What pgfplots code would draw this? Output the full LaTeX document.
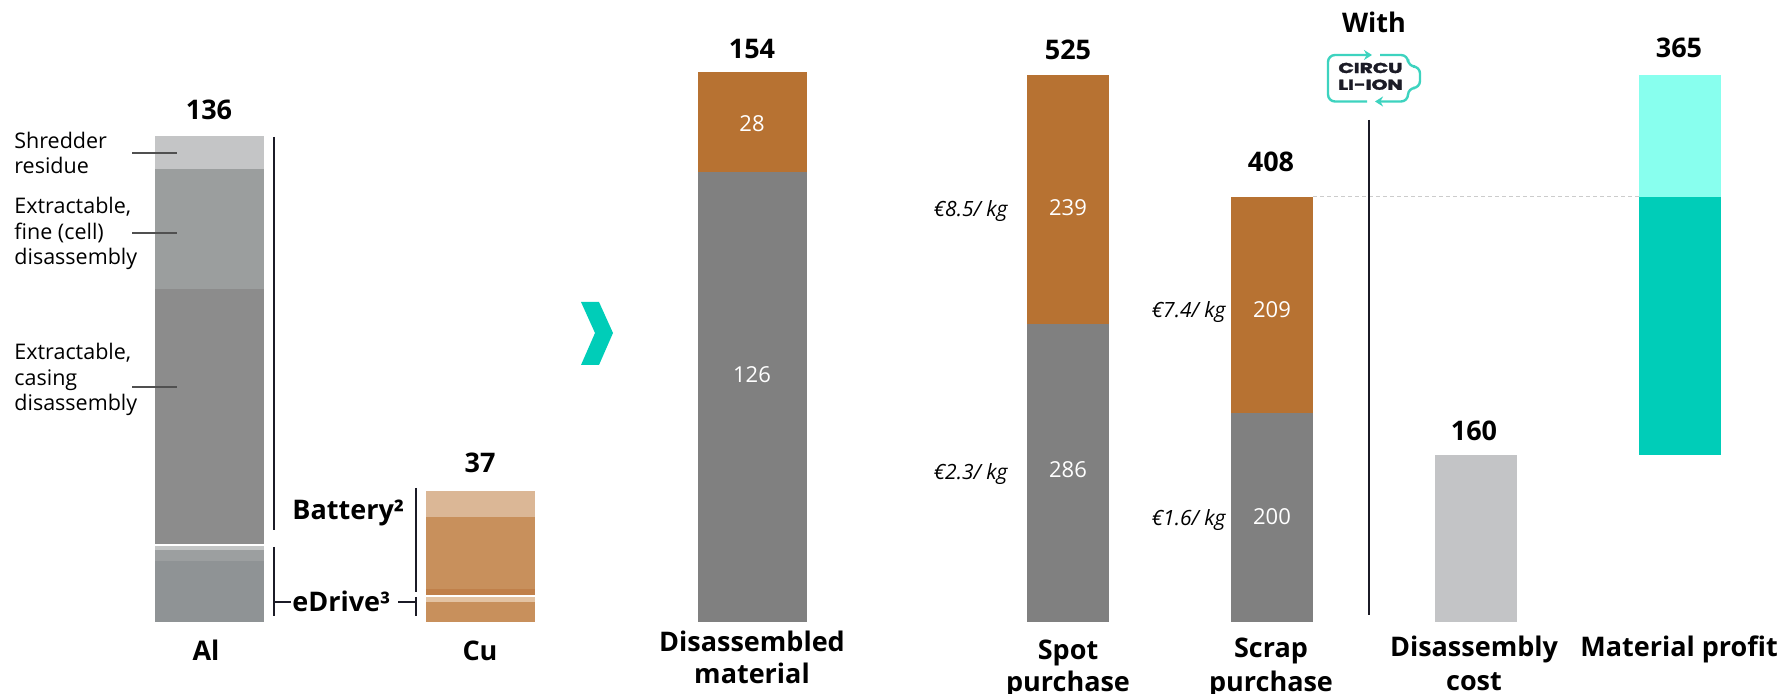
\documentclass[border=0pt]{standalone}
\usepackage{fontspec}
\setmainfont{Open Sans}
\newfontfamily\logofont{Poppins}[BoldFeatures={FakeBold=2}]
\usepackage{graphicx}
\usepackage{pgfplots}
\pgfplotsset{compat=1.18}
\usetikzlibrary{arrows.meta}

\definecolor{metal}{HTML}{808080}
\definecolor{copper}{HTML}{B77232}
\definecolor{alShred}{HTML}{C4C5C6}
\definecolor{alFine}{HTML}{9B9E9E}
\definecolor{alCase}{HTML}{8C8C8C}
\definecolor{alPale}{HTML}{C3C5C5}
\definecolor{alMid}{HTML}{9C9FA0}
\definecolor{alLow}{HTML}{8F9395}
\definecolor{cuLight}{HTML}{DBB796}
\definecolor{cuTan}{HTML}{C8905C}
\definecolor{cuDark}{HTML}{C0804A}
\definecolor{cuPale}{HTML}{E3C3A3}
\definecolor{costgray}{HTML}{C3C4C6}
\definecolor{cteal}{HTML}{00CDB8}
\definecolor{lightteal}{HTML}{88FFEE}
\definecolor{logoteal}{HTML}{3DD3BF}
\definecolor{ink}{HTML}{1B1B26}
\definecolor{leader}{HTML}{505050}

% one px of the reference = 0.5pt; all panels share the same box, baseline at px 622
\pgfplotsset{
  panel/.style={at={(0,0)}, anchor=south west, width=890.5pt, height=347pt,
    scale only axis, hide axis, clip=false, xmin=0, xmax=1781,
    ybar stacked, bar shift=0pt},
  kgaxis/.style={panel, ymin=-20.168, ymax=174.23, bar width=109},
  euraxis/.style={panel, ymin=-69.05, ymax=596.53, bar width=81.5},
}

\newcommand\tot{\fontsize{13.5}{16}\selectfont\bfseries}
\newcommand\cat{\fontsize{13.5}{16}\selectfont\bfseries}
\newcommand\note{\fontsize{10.75}{12.5}\selectfont}
\newcommand\inbar{\fontsize{11}{13}\selectfont\color{white}}
\newcommand\price{\fontsize{10.5}{12}\selectfont\itshape}

\begin{document}
\begin{tikzpicture}
% ---- kg panels
\begin{axis}[kgaxis] % Al
  \addplot[fill=alLow, draw=none] coordinates {(209.3,17)};
  \addplot[fill=alMid, draw=none] coordinates {(209.3,3.3)};
  \addplot[fill=alPale, draw=none] coordinates {(209.3,1.1)};
  \addplot[fill=white, draw=none] coordinates {(209.3,0.5)};
  \addplot[fill=alCase, draw=none] coordinates {(209.3,71.3)};
  \addplot[fill=alFine, draw=none] coordinates {(209.3,33.8)};
  \addplot[fill=alShred, draw=none] coordinates {(209.3,9.0)};
\end{axis}
\begin{axis}[kgaxis] % Cu
  \addplot[fill=cuTan, draw=none] coordinates {(480.5,5.6)};
  \addplot[fill=cuPale, draw=none] coordinates {(480.5,1.4)};
  \addplot[fill=white, draw=none] coordinates {(480.5,0.5)};
  \addplot[fill=cuDark, draw=none] coordinates {(480.5,1.7)};
  \addplot[fill=cuTan, draw=none] coordinates {(480.5,20.2)};
  \addplot[fill=cuLight, draw=none] coordinates {(480.5,7.4)};
\end{axis}
\begin{axis}[kgaxis] % disassembled material
  \addplot[fill=metal, draw=none] coordinates {(752,126)};
  \addplot[fill=copper, draw=none] coordinates {(752,28)};
\end{axis}
% ---- euro panels
\begin{axis}[euraxis] % spot purchase
  \addplot[fill=metal, draw=none] coordinates {(1068.2,286)};
  \addplot[fill=copper, draw=none] coordinates {(1068.2,239)};
\end{axis}
\begin{axis}[euraxis] % scrap purchase
  \addplot[fill=metal, draw=none] coordinates {(1272,200)};
  \addplot[fill=copper, draw=none] coordinates {(1272,208)};
\end{axis}
\begin{axis}[euraxis] % disassembly cost
  \addplot[fill=costgray, draw=none] coordinates {(1476,160)};
\end{axis}
\begin{axis}[euraxis] % material profit, floating from 160 to 525
  \addplot[fill=none, draw=none] coordinates {(1680,160)};
  \addplot[fill=cteal, draw=none] coordinates {(1680,248)};
  \addplot[fill=lightteal, draw=none] coordinates {(1680,117)};
  \draw[color=black!20, line width=0.5pt, dash pattern=on 2pt off 1.5pt]
    (axis cs:1313,408) -- (axis cs:1640,408);
\end{axis}

% ---- annotations, in reference pixels
\begin{scope}[x=0.5pt, y=-0.5pt, shift={(0,347pt)}]
  % totals
  \node[font=\tot] at (209,109.7) {136};
  \node[font=\tot] at (480,463) {37};
  \node[font=\tot] at (752,48.7) {154};
  \node[font=\tot] at (1068,49.8) {525};
  \node[font=\tot] at (1271,161.8) {408};
  \node[font=\tot] at (1474,430.4) {160};
  \node[font=\tot] at (1679,48.2) {365};
  \node[font=\tot] at (1374,22) {With};
  % values inside the bars
  \node[font=\inbar] at (752,124) {28};
  \node[font=\inbar] at (752,375) {126};
  \node[font=\inbar] at (1068,208) {239};
  \node[font=\inbar] at (1068,470) {286};
  \node[font=\inbar] at (1272,310) {209};
  \node[font=\inbar] at (1272,517) {200};
  % prices
  \node[font=\price, anchor=base east, inner sep=0pt] at (1008,216.8) {€8.5/ kg};
  \node[font=\price, anchor=base east, inner sep=0pt] at (1008,480) {€2.3/ kg};
  \node[font=\price, anchor=base east, inner sep=0pt] at (1226,317.7) {€7.4/ kg};
  \node[font=\price, anchor=base east, inner sep=0pt] at (1226,525.7) {€1.6/ kg};
  % Al fractions
  \begin{scope}[every node/.style={font=\note, anchor=base west, inner sep=0pt}]
    \node at (14,148.5) {Shredder};
    \node at (14,174) {residue};
    \node at (14,214) {Extractable,};
    \node at (14,239.5) {fine (cell)};
    \node at (14,265) {disassembly};
    \node at (14,360) {Extractable,};
    \node at (14,385.5) {casing};
    \node at (14,411) {disassembly};
  \end{scope}
  \draw[leader, line width=0.65pt] (132,153) -- (177,153);
  \draw[leader, line width=0.65pt] (132,233) -- (177,233);
  \draw[leader, line width=0.65pt] (132,387) -- (177,387);
  % brackets
  \draw[ink, line width=1pt] (274,137) -- (274,530);
  \draw[ink, line width=1pt] (274,547) -- (274,616);
  \draw[ink, line width=1pt] (274,602) -- (291,602);
  \draw[ink, line width=1pt] (416,488) -- (416,592);
  \draw[ink, line width=1pt] (416,597) -- (416,616);
  \draw[ink, line width=1pt] (398,602) -- (416,602);
  \node[font=\cat, anchor=base west, inner sep=0pt] at (292,520) {Battery²};
  \node[font=\cat, anchor=base west, inner sep=0pt] at (292,612) {eDrive³};
  % category labels
  \begin{scope}[every node/.style={font=\cat, anchor=base, inner sep=0pt}]
    \node at (206,661) {Al};
    \node at (480,661) {Cu};
    \node at (752,652) {Disassembled};
    \node at (752,683.5) {material};
    \node at (1068,660) {Spot};
    \node at (1068,692) {purchase};
    \node at (1271,658) {Scrap};
    \node at (1271,692) {purchase};
    \node at (1474,657) {Disassembly};
    \node at (1474,691) {cost};
    \node at (1679,657) {Material profit};
  \end{scope}
  % chevron
  \fill[cteal] (581,302) -- (599,302) -- (613,333) -- (599,365) -- (581,365) -- (595,333) -- cycle;
  % separator
  \draw[ink, line width=1pt] (1369,120) -- (1369,615);
  % logo
  \draw[logoteal, line width=1.2pt, rounded corners=3.5pt, -{Stealth[length=4pt,width=5pt]}]
    (1367,101.5) -- (1328,101.5) -- (1328,55) -- (1372,55);
  \draw[logoteal, line width=1.2pt, rounded corners=3.5pt, -{Stealth[length=4pt,width=5pt]}]
    (1380,55) -- (1408,55) -- (1408,66.5) -- (1420,66.5) -- (1420,88) -- (1408,88) -- (1408,101.5) -- (1375,101.5);
  \node[anchor=west, inner sep=0pt, text=ink] at (1338,68)
    {\scalebox{1.4}[1]{\logofont\fontsize{7.2}{8}\selectfont\bfseries CIRCU}};
  \node[anchor=west, inner sep=0pt, text=ink] at (1338,84.7)
    {\scalebox{1.4}[1]{\logofont\fontsize{7.2}{8}\selectfont\bfseries LI-ION}};
\end{scope}

\pgfresetboundingbox
\path[use as bounding box] (0,0) rectangle (890.5pt,347pt);
\end{tikzpicture}
\end{document}
